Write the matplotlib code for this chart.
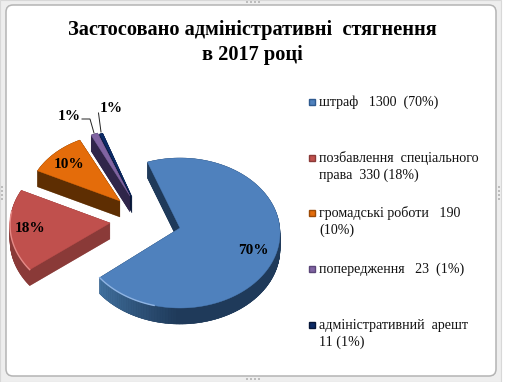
import numpy as np
import matplotlib
matplotlib.use("Agg")
import matplotlib.pyplot as plt
from matplotlib.patches import Polygon, Rectangle, FancyBboxPatch
from matplotlib.colors import to_rgb

plt.rcParams['font.family'] = ['Liberation Serif', 'DejaVu Serif']

# ---------- data ----------
title_lines = ["Застосовано адміністративні  стягнення", "в 2017 році"]
categories = ["штраф", "позбавлення спеціального права", "громадські роботи",
              "попередження", "адміністративний арешт"]
values = [1300, 330, 190, 23, 11]
pct_labels = ["70%", "18%", "10%", "1%", "1%"]
legend_lines = [["штраф   1300  (70%)"],
                ["позбавлення  спеціального", "права  330 (18%)"],
                ["громадські роботи   190", "(10%)"],
                ["попередження   23  (1%)"],
                ["адміністративний  арешт", "11 (1%)"]]

# ---------- style ----------
top_colors = ["#4f81bd", "#c0504d", "#e46c0a", "#8064a2", "#0b2a66"]
wall_colors = ["#1f3a5a", "#8a3a38", "#5e2e02", "#30264a", "#061638"]
marker_edges = ["#2f5a8f", "#8a3a38", "#9c4a06", "#5a4578", "#061638"]
offsets_px = [(0, 0), (-70, 8), (-60, 30), (-50, 37), (-48, 36)]
apex_shift_px = [(0, 5), (0, 2), (0, 2), (0, 0), (0, 0)]
radii = [1.0, 1.0, 0.93, 0.90, 0.90]
start_angle = 109.0
W, H = 506, 382
CX, CY, RX, RY, DEPTH = 180, 233, 100, 75, 16

fig = plt.figure(figsize=(W / 100, H / 100), dpi=100, facecolor="white")

# pixel-space layer: frame
bg = fig.add_axes([0, 0, 1, 1])
bg.set_xlim(0, W); bg.set_ylim(H, 0); bg.axis("off")
bg.add_patch(Rectangle((0, 0), 501, 381.5, fc="#eeeeee", ec="#d8d8d8", lw=0.8))
bg.add_patch(FancyBboxPatch((11, 10), 480, 361, boxstyle="round,pad=5,rounding_size=7",
                            fc="white", ec="#b4b4b4", lw=1.1))
for hx in (246, 250, 254, 258):
    bg.add_patch(Rectangle((hx, 1), 2, 2, fc="#bdbdbd", ec="none"))
    bg.add_patch(Rectangle((hx, 378), 2, 2, fc="#bdbdbd", ec="none"))
for hy in (186, 190, 194, 198):
    bg.add_patch(Rectangle((1, hy), 2, 2, fc="#bdbdbd", ec="none"))
    bg.add_patch(Rectangle((498, hy), 2, 2, fc="#bdbdbd", ec="none"))

# pie layer: one data unit = the pie radius, squashed by the tilt
ax = fig.add_axes([0, 0, 1, 1], facecolor="none")
ax.set_xlim(-CX / RX, (W - CX) / RX)
ax.set_ylim((CY - H) / RY, CY / RY)
ax.axis("off")

fractions = np.array(values, dtype=float) / np.sum(values)
ends = start_angle - np.cumsum(fractions) * 360
starts = np.r_[start_angle, ends[:-1]]
depth_u = DEPTH / RY


def mix(c1, c2, t):
    return tuple((1 - t) * np.array(to_rgb(c1)) + t * np.array(to_rgb(c2)))


def slice_outline(i, drop=0.0):
    ox, oy = offsets_px[i][0] / RX, offsets_px[i][1] / RY
    th = np.radians(np.linspace(ends[i], starts[i], 160))
    xs = ox + radii[i] * np.cos(th)
    ys = oy + radii[i] * np.sin(th) - drop
    ax_, ay_ = ox + apex_shift_px[i][0] / RX, oy + apex_shift_px[i][1] / RY - drop
    return np.r_[[[ax_, ay_]], np.c_[xs, ys]]


for i in range(len(values) - 1, -1, -1):
    # extruded side
    for d in np.linspace(depth_u, 0, 2 * DEPTH):
        ax.add_patch(Polygon(slice_outline(i, d), fc=wall_colors[i], ec=wall_colors[i], lw=0.3, zorder=2))
    # shaded outer wall of the large slice
    if i == 0:
        ox, oy = offsets_px[0][0] / RX, offsets_px[0][1] / RY
        th = np.radians(np.linspace(ends[0], 0, 90))
        for k in range(len(th) - 1):
            xs = ox + np.cos(th[k:k + 2]); ys = oy + np.sin(th[k:k + 2])
            col = mix("#41719f", "#1f3a5a", min(1.0, k / 32))
            ax.add_patch(Polygon([(xs[0], ys[0]), (xs[1], ys[1]),
                                  (xs[1], ys[1] - depth_u), (xs[0], ys[0] - depth_u)],
                                 fc=col, ec=col, lw=0.4, zorder=3))
    # top face
    ax.add_patch(Polygon(slice_outline(i), fc=top_colors[i], ec=top_colors[i], lw=0.3, zorder=4))

# light rims on the lower left of the two large slices
th = np.radians(np.linspace(ends[0], -105, 40))
ax.plot(offsets_px[0][0] / RX + np.cos(th), offsets_px[0][1] / RY + np.sin(th), color="#8fb4e3", lw=1, zorder=5)
th = np.radians(np.linspace(ends[0] + 360, 170, 30))
ax.plot(offsets_px[1][0] / RX + np.cos(th), offsets_px[1][1] / RY + np.sin(th), color="#e58a87", lw=1, zorder=5)

# leader lines, labels, title, legend
fg = fig.add_axes([0, 0, 1, 1], facecolor="none")
fg.set_xlim(0, W); fg.set_ylim(H, 0); fg.axis("off")
fg.plot([82, 90, 94], [119, 119, 133], color="#222222", lw=0.7)
fg.plot([98.5, 101], [113, 132], color="#222222", lw=0.7)
label_pos = [(253, 250), (30, 229), (69, 165), (69, 116), (111, 109)]
for lab, (x, y) in zip(pct_labels, label_pos):
    fg.text(x, y, lab, fontsize=11, fontweight="bold", ha="center", va="center", color="black")

title_y = [30, 55]
for line, y in zip(title_lines, title_y):
    fg.text(252, y, line, fontsize=14.7, fontweight="bold", ha="center", va="center", color="black")

legend_y = [102, 158, 213, 269, 325]
for i, (lines, y) in enumerate(zip(legend_lines, legend_y)):
    fg.add_patch(Rectangle((309, y - 3.5), 6.5, 6.5, fc=top_colors[i], ec=marker_edges[i], lw=1))
    for j, line in enumerate(lines):
        fg.text(319, y + j * 17.5, line, fontsize=10.1, ha="left", va="center", color="#111111")

fig.savefig("out.png", dpi=100)
